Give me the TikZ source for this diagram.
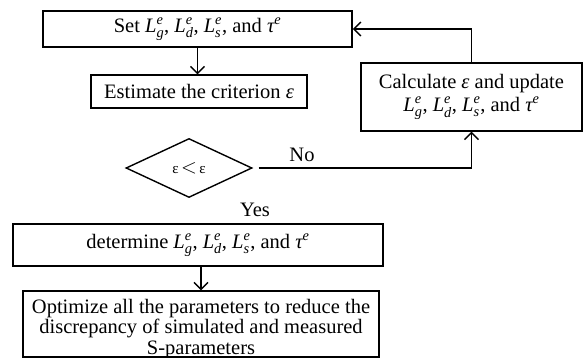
\documentclass[tikz,border=0pt]{standalone}
\usepackage{amsmath}
\usepackage{fontspec}
\setmainfont{Liberation Serif}
\usetikzlibrary{arrows.meta,shapes.geometric}
\newcommand{\Lsym}[1]{$\textit{L}^{\textit{e}}_{\textit{#1}}$}
\newcommand{\tausym}{$\textit{τ}^{\textit{e}}$}
\begin{document}
\begin{tikzpicture}[x=1pt,y=-1pt,
  font=\fontsize{20.5}{21}\selectfont,
  box/.style={draw, line width=1.2pt, inner sep=0pt, align=center},
  thickbox/.style={box, line width=1.7pt},
  arr/.style={line width=1.4pt, -{Straight Barb[length=7pt,width=14pt,line width=1.4pt]}},
  plain/.style={line width=1.4pt}]
\useasboundingbox (0,0) rectangle (586,358);
\node[thickbox, minimum width=309pt, minimum height=36pt] (set) at (197.5,29)
  {Set \Lsym{g}, \Lsym{d}, \Lsym{s}, and \tausym};
\node[box, minimum width=216pt, minimum height=33pt] (est) at (199,91.5)
  {Estimate the criterion \textit{ε}};
\node[box, minimum width=221pt, minimum height=68pt, font=\fontsize{20.5}{23}\selectfont] (calc) at (471.5,97)
  {Calculate \textit{ε} and update\\ \Lsym{g}, \Lsym{d}, \Lsym{s}, and \tausym};
\node[draw, diamond, aspect=2, line width=1.4pt, minimum width=126pt, minimum height=59pt, inner sep=0pt,
  font=\fontsize{15}{16}\selectfont] (dia) at (189,168)
  {ε\,{\fontsize{20}{20}\selectfont$<$}\,ε};
\node (no) at (302,155) {No};
\node (yes) at (255,210) {Yes};
\node[thickbox, minimum width=370pt, minimum height=42pt] (det) at (198,245)
  {determine \Lsym{g}, \Lsym{d}, \Lsym{s}, and \tausym};
\node[box, minimum width=356pt, minimum height=66pt] (opt) at (201,324) {};
\node[align=center, font=\fontsize{20.5}{20.5}\selectfont, inner sep=0pt] (opttext) at (201,329)
  {Optimize all the parameters to reduce the\\ discrepancy of simulated and measured\\ S-parameters};
\coordinate (noStart) at ([xshift=6pt]dia.east);
\draw[arr] (set.south) -- (set.south |- est.north);
\draw[arr] (calc.north) |- (set.east);
\draw[arr] (noStart) -| (calc.south);
\draw[arr] (det.south -| opt.north) -- (opt.north);
\end{tikzpicture}
\end{document}
